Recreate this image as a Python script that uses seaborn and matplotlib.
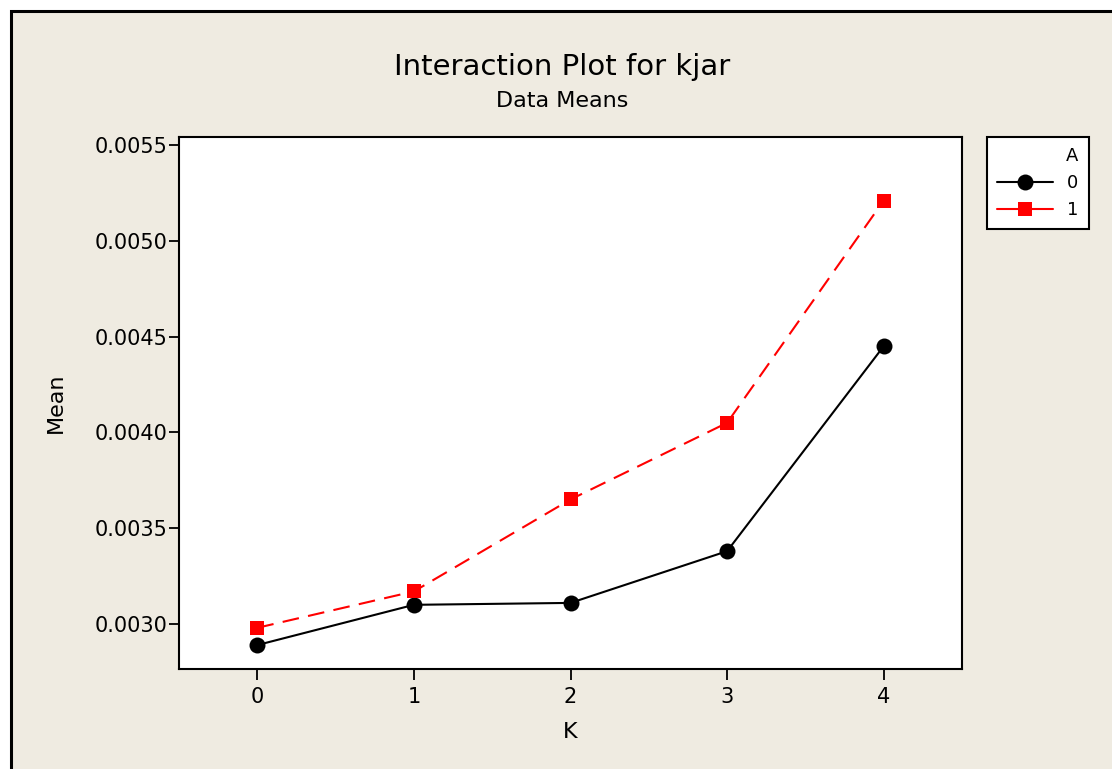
import matplotlib
matplotlib.use("Agg")
import matplotlib.pyplot as plt
from matplotlib.patches import Rectangle
from matplotlib.lines import Line2D
import seaborn as sns
import pandas as pd

# Mean kjar for each K level, split by factor A
k_levels = [0, 1, 2, 3, 4]
mean_a0 = [0.00289, 0.00310, 0.00311, 0.00338, 0.00445]
mean_a1 = [0.00298, 0.00317, 0.00365, 0.00405, 0.00521]
y_ticks = [0.0030, 0.0035, 0.0040, 0.0045, 0.0050, 0.0055]
y_tick_labels = ["0.0030", "0.0035", "0.0040", "0.0045", "0.0050", "0.0055"]

df = pd.DataFrame({
    "K": k_levels + k_levels,
    "Mean": mean_a0 + mean_a1,
    "A": ["0"] * len(k_levels) + ["1"] * len(k_levels),
})

sns.set_theme(style="white")
plt.rcParams["font.family"] = ["DejaVu Sans"]
plt.rcParams["text.color"] = "black"
plt.rcParams["axes.labelcolor"] = "black"
plt.rcParams["xtick.color"] = "black"
plt.rcParams["ytick.color"] = "black"

bg = "#efebe1"
fig = plt.figure(figsize=(11.12, 7.69), dpi=100)
fig.patch.set_facecolor("white")

# framed beige panel
panel = Rectangle((10.5 / 1112, -0.01), 1.1, 1 - 10.5 / 769 + 0.01,
                  transform=fig.transFigure, facecolor=bg,
                  edgecolor="black", linewidth=2.2, zorder=-5)
fig.patches.append(panel)

ax = fig.add_axes([179 / 1112, 1 - 669 / 769, (962 - 179) / 1112, (669 - 137) / 769])
ax.set_facecolor("white")
ax.set_zorder(1)

lw = 1.5
palette = {"0": "black", "1": "#ff0000"}
sns.lineplot(data=df, x="K", y="Mean", hue="A", style="A", ax=ax,
             palette=palette, markers={"0": "o", "1": "s"},
             dashes={"0": "", "1": (8, 4.5)}, markersize=11.5,
             markeredgewidth=0, linewidth=lw, legend=False)
for ln in ax.lines:
    if ln.get_marker() == "s":
        ln.set_markersize(9.5)

ax.set_xlim(-0.5, 4.5)
ax.set_ylim(0.002765, 0.005542)
ax.set_xticks(k_levels)
ax.set_xticklabels([str(k) for k in k_levels], fontsize=15)
ax.set_yticks(y_ticks)
ax.set_yticklabels(y_tick_labels, fontsize=15)
ax.tick_params(axis="y", direction="out", length=7, width=1.3, color="black", pad=1, left=True)
ax.tick_params(axis="x", direction="out", length=8, width=1.3, color="black", pad=5, bottom=True)
for s in ax.spines.values():
    s.set_color("black")
    s.set_linewidth(1.5)

ax.set_xlabel("K", fontsize=16)
ax.set_ylabel("Mean", fontsize=16)
ax.xaxis.label.set_verticalalignment("center")
ax.yaxis.label.set_verticalalignment("center")
ax.xaxis.set_label_coords(0.5, -(732 - 669) / 532)
ax.yaxis.set_label_coords((56 - 179) / 783, 0.5)

fig.text(562 / 1112, 1 - 67 / 769, "Interaction Plot for kjar", ha="center", va="center", fontsize=21)
fig.text(562 / 1112, 1 - 101 / 769, "Data Means", ha="center", va="center", fontsize=16)

handles = [
    Line2D([], [], color="black", marker="o", markersize=11.5, markeredgewidth=0, linewidth=lw),
    Line2D([], [], color="#ff0000", marker="s", markersize=9.5, markeredgewidth=0, linewidth=lw),
]
leg = fig.legend(handles, ["0", "1"], title="A", loc="upper left",
                 bbox_to_anchor=(987 / 1112, 1 - 137 / 769), borderaxespad=0,
                 fontsize=13, title_fontsize=13, frameon=True, fancybox=False,
                 framealpha=1, handlelength=3.1, borderpad=0.55, labelspacing=0.5,
                 handletextpad=0.8)
leg.get_frame().set_edgecolor("black")
leg.get_frame().set_linewidth(1.5)
leg.get_frame().set_facecolor("white")
leg._legend_box.align = "right"

fig.savefig("out.png", dpi=100, facecolor=fig.get_facecolor())
